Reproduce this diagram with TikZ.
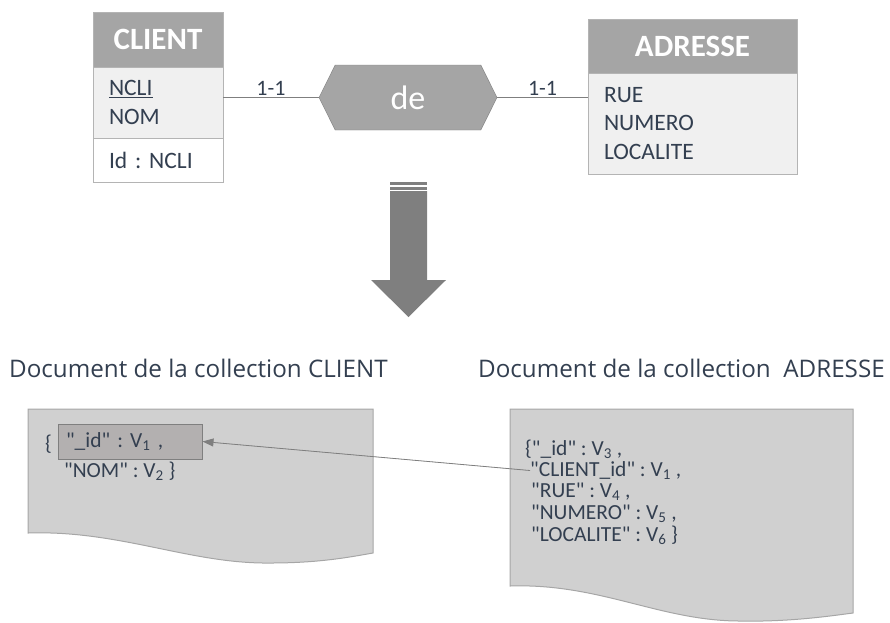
\documentclass[tikz,border=0pt]{standalone}
\usepackage{fontspec}
\setmainfont{Carlito}
\newfontfamily\titlefont{Open Sans}
\usetikzlibrary{shapes.symbols,arrows.meta}
\definecolor{txtblue}{HTML}{333F50}
\definecolor{headgray}{HTML}{A5A5A5}
\definecolor{bodygray}{HTML}{F0F0F0}
\definecolor{tableline}{HTML}{B4B4B4}
\definecolor{darkgray}{HTML}{7F7F7F}
\definecolor{docgray}{HTML}{D0D0D0}
\definecolor{docline}{HTML}{A6A6A6}
\definecolor{keygray}{HTML}{B3B0B0}
\newcommand{\qm}{\textquotedbl}
\frenchspacing

\begin{document}
\begin{tikzpicture}[
	x=1pt,y=-1pt,
	entityhead/.style={
		rectangle,draw=tableline,fill=headgray,text=white,inner sep=0pt,
		font=\bfseries\fontsize{31}{34}\selectfont},
	entitybody/.style={
		rectangle,draw=tableline,fill=bodygray,text=txtblue,inner ysep=0pt,
		inner xsep=16pt,align=left,font=\fontsize{23.5}{28.5}\selectfont},
	relnode/.style={
		signal,signal to=east and west,signal pointer angle=127,
		draw=darkgray,fill=headgray,text=white,inner sep=0pt,
		font=\fontsize{34}{36}\selectfont},
	relline/.style={draw=darkgray,line width=1.5pt},
	card/.style={midway,above,inner sep=1.5pt,text=txtblue,font=\fontsize{22}{24}\selectfont},
	doctitle/.style={anchor=base west,inner sep=0pt,text=txtblue,font=\titlefont\fontsize{24.2}{28}\selectfont},
	docshape/.style={draw=docline,fill=docgray,line width=1pt},
	doctext/.style={anchor=base west,inner sep=0pt,text height=14pt,text depth=3pt,
		text=txtblue,font=\fontsize{21.5}{24}\selectfont},
	keybox/.style={
		rectangle,draw=darkgray,fill=keygray,line width=1pt,minimum width=144pt,minimum height=35pt,
		text width=128pt,inner xsep=8pt,align=left,text=txtblue,font=\fontsize{21.5}{24}\selectfont},
	fkarrow/.style={-{Triangle[length=11pt,width=8pt]},draw=darkgray,fill=darkgray,line width=0.8pt},
	bigarrow/.style={fill=darkgray}
	]
	\useasboundingbox (0,0) rectangle (890,622);
	% CLIENT
	\node [entityhead, minimum width=130pt, minimum height=55pt] (clientHead) at (158,39.5) {CLIENT};
	\node [entitybody, minimum height=71pt, text width=98pt] (clientAttr) at (158,102.5) {\underline{NCLI}\\NOM};
	\node [entitybody, fill=white, minimum height=44pt, text width=98pt] (clientId) at (158,160) {Id : NCLI};
	% ADRESSE
	\node [entityhead, minimum width=209pt, minimum height=54pt] (adrHead) at (692.5,46) {ADRESSE};
	\node [entitybody, minimum height=101pt, text width=177pt] (adrAttr) at (692.5,123.5) {RUE\\NUMERO\\LOCALITE};
	% relation
	\node [relnode, minimum width=178pt, minimum height=65pt] (de) at (408,97.5) {de};
	\draw [relline] (clientAttr.east |- de.west) -- (de.west) node[card] {1-1};
	\draw [relline] (de.east) -- (de.east -| adrAttr.west) node[card] {1-1};
	% transformation
	\fill [bigarrow] (390,182) rectangle (427,184.5);
	\fill [bigarrow] (390,186.5) rectangle (427,189.5);
	\fill [bigarrow] (390,191) -- (427,191) -- (427,280) -- (446,280) -- (408.5,317)
		-- (371,280) -- (390,280) -- cycle;
	% documents
	\node [doctitle] (titleClient) at (9,377) {Document de la collection CLIENT};
	\node [doctitle] (titleAdr) at (478,377) {Document de la collection~~ADRESSE};
	\filldraw [docshape] (28,409) -- (373,409) -- (373,553)
		.. controls (350,557) and (320,563) .. (270,563)
		.. controls (190,564) and (120,530) .. (28,533) -- cycle;
	\filldraw [docshape] (510,409) -- (853,409) -- (853,613)
		.. controls (830,616) and (790,622) .. (740,621)
		.. controls (660,621) and (600,583) .. (510,586) -- cycle;
	% CLIENT document
	\node [doctext] (brace) at (45,450) {\{};
	\node [keybox] (idbox) at (130,441.5) {\qm\_id\qm{} : V\textsubscript{1} ,};
	\node [doctext] (nomLine) at (64,477) {\qm NOM\qm{} : V\textsubscript{2} \}};
	% ADRESSE document
	\node [doctext] (adrId) at (525,455) {\{\qm\_id\qm{} : V\textsubscript{3} ,};
	\node [doctext] (cid) at (530,476) {\qm CLIENT\_id\qm{} : V\textsubscript{1} ,};
	\node [doctext] (rue) at (531,497) {\qm RUE\qm{} : V\textsubscript{4} ,};
	\node [doctext] (numero) at (531,519) {\qm NUMERO\qm{} : V\textsubscript{5} ,};
	\node [doctext] (localite) at (531,541) {\qm LOCALITE\qm{} : V\textsubscript{6} \}};
	\draw [fkarrow] (cid.west) -- (idbox.east);
\end{tikzpicture}
\end{document}
